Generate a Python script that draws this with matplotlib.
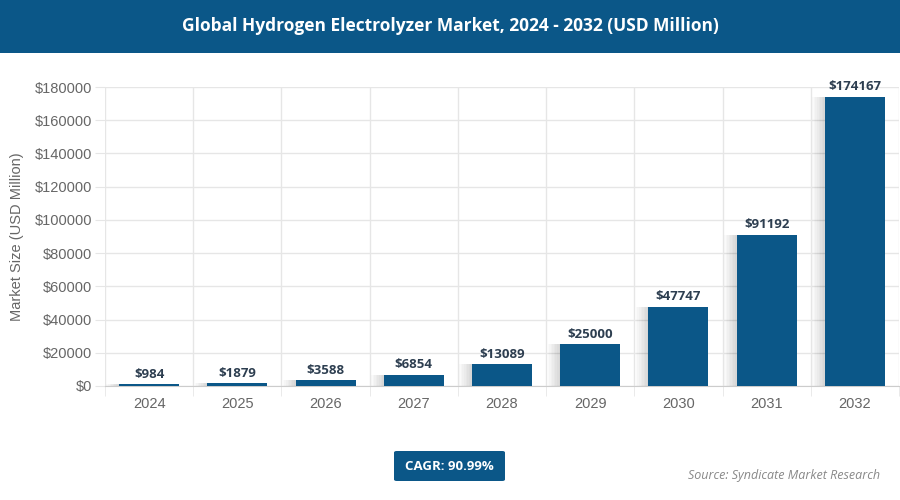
import numpy as np
import matplotlib.pyplot as plt
from matplotlib.patches import Rectangle, FancyBboxPatch

years = ['2024', '2025', '2026', '2027', '2028', '2029', '2030', '2031', '2032']
values = [984, 1879, 3588, 6854, 13089, 25000, 47747, 91192, 174167]
y_ticks = [0, 20000, 40000, 60000, 80000, 100000, 120000, 140000, 160000, 180000]

BLUE = '#0b5788'
GRID = '#e6e6e6'

plt.rcParams['font.family'] = ['Liberation Sans', 'DejaVu Sans']

fig = plt.figure(figsize=(9, 5), dpi=100)
fig.patch.set_facecolor('white')

# header band
fig.patches.append(Rectangle((0, 1 - 53 / 500), 1, 53 / 500, transform=fig.transFigure,
                             facecolor=BLUE, edgecolor='none', zorder=0))
fig.text(0.5, 1 - 26 / 500, 'Global Hydrogen Electrolyzer Market, 2024 - 2032 (USD Million)',
         ha='center', va='center', color='white', fontsize=12.5, fontweight='bold',
         family=['Open Sans', 'DejaVu Sans'])

ax = fig.add_axes([105 / 900, 1 - 386 / 500, 794 / 900, 299 / 500])
x = np.arange(len(years))

# soft shadow behind bars (layered, fading outwards)
for k in range(1, 9):
    ax.bar(x - 0.012 * k, values, width=0.68 + 0.012 * k, color='black', alpha=0.018,
           zorder=2, linewidth=0)
ax.bar(x, values, width=0.68, color=BLUE, zorder=3, linewidth=0)

for xi, v in zip(x, values):
    ax.text(xi, v + 2000, f'${v}', ha='center', va='bottom', fontsize=9.5,
            fontweight='bold', color='#2d3e50', family=['Open Sans', 'DejaVu Sans'], zorder=4)

ax.set_xlim(-0.5, len(years) - 0.5)
ax.set_ylim(0, 180000)
ax.set_yticks(y_ticks)
ax.set_yticklabels([f'${t}' for t in y_ticks])
ax.set_xticks(x)
ax.set_xticklabels(years)
ax.set_xticks(np.arange(-0.5, len(years), 1), minor=True)

ax.grid(axis='y', color=GRID, linewidth=1, zorder=0)
ax.grid(axis='x', which='minor', color=GRID, linewidth=1, zorder=0)
ax.tick_params(axis='x', which='major', length=0, pad=8, labelsize=10.5, labelcolor='#666666')
ax.tick_params(axis='x', which='minor', length=7, color=GRID)
ax.tick_params(axis='y', length=7, color=GRID, labelsize=10.5, labelcolor='#666666', pad=2)
for s in ['top', 'right', 'left']:
    ax.spines[s].set_visible(False)
ax.spines['bottom'].set_color('#cccccc')

ax.set_ylabel('Market Size (USD Million)', fontsize=10.5, color='#666666', labelpad=8)

# CAGR box
fig.patches.append(FancyBboxPatch((394 / 900, 1 - 481 / 500), 111 / 900, 30 / 500,
                                  boxstyle='round,pad=0,rounding_size=0.003',
                                  transform=fig.transFigure, facecolor=BLUE,
                                  edgecolor='none'))
fig.text(449.5 / 900, 1 - 466 / 500, 'CAGR: 90.99%', ha='center', va='center',
         color='white', fontsize=9.5, fontweight='bold', family=['Open Sans', 'DejaVu Sans'])

fig.text(880 / 900, 1 - 476 / 500, 'Source: Syndicate Market Research', ha='right',
         va='center', color='#888888', fontsize=9, style='italic',
         family=['Open Sans', 'DejaVu Sans'])

fig.savefig('out.png', dpi=100)
